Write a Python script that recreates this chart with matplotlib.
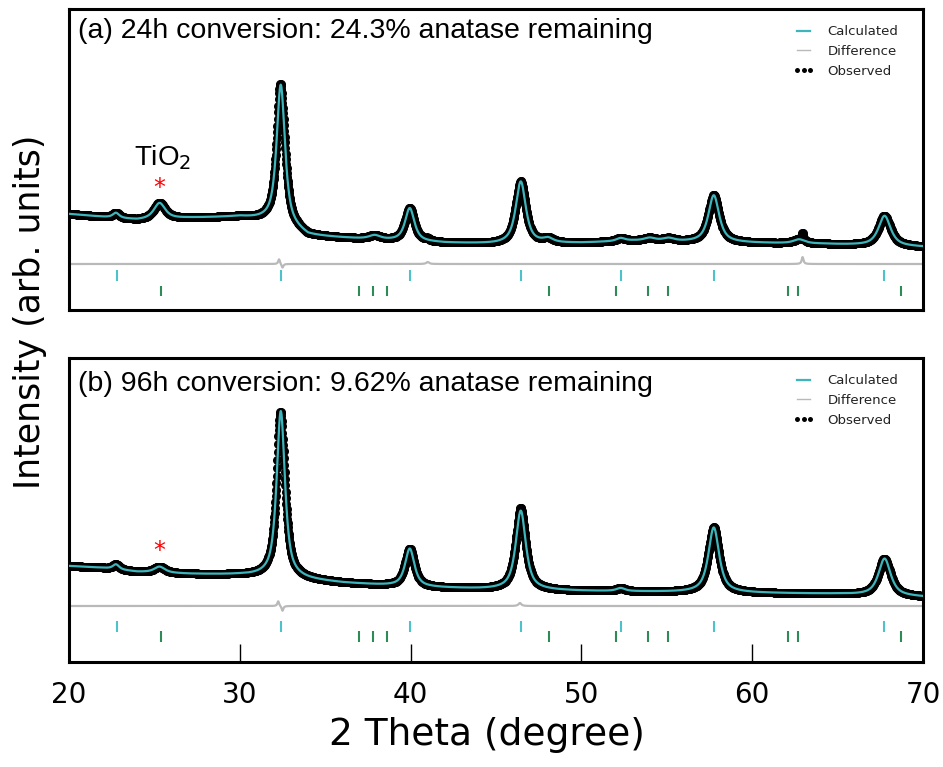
"""
XRD Rietveld refinement plots: 24h and 96h conversion of anatase.
"""

import numpy as np
import matplotlib.pyplot as plt

# scan range / step (deg 2-theta)
scan_start, scan_stop, scan_step = 20.0, 70.0, 0.02

# reflection tick positions
srtio3_ticks = [22.79, 32.40, 39.96, 46.46, 52.30, 57.74, 67.70]
anatase_ticks = [25.39, 37.00, 37.82, 38.62, 48.08, 52.00, 53.88, 55.09, 62.11, 62.66, 68.71]

# (a) 24h -- background anchors and fitted peaks
bg_a_pos = [20, 22, 24, 27, 30, 32.3, 34, 36, 38, 42, 45, 50, 53, 56, 60, 64, 70]
bg_a_int = [96, 93, 90, 92, 93, 88, 74, 72, 70, 67, 66, 67, 69, 68, 67, 66, 63]
peak_a_pos = [22.75, 25.30, 32.40, 37.90, 39.95, 46.45, 48.05, 52.30, 54.00, 55.10, 57.75, 62.75, 67.75]
peak_a_int = [5, 16, 138, 4, 33, 62, 4, 3, 3, 3, 47, 4, 30]
peak_a_fwhm = [0.45, 0.8, 0.58, 0.8, 0.65, 0.7, 0.7, 0.6, 0.8, 0.8, 0.75, 0.8, 0.85]
# features not described by the model (show up in observed and difference)
extra_a_pos = [62.95, 32.30, 32.50, 41.00]
extra_a_int = [7, 5, -4, 2]
extra_a_fwhm = [0.12, 0.12, 0.12, 0.2]

# (b) 96h
bg_b_pos = [20, 22, 24, 27, 30, 32.3, 34, 36, 40, 44, 50, 55, 60, 65, 70]
bg_b_int = [96, 94, 90, 88, 87, 85, 82, 79, 75, 73, 71, 70, 69, 68, 65]
peak_b_pos = [22.75, 25.30, 32.40, 39.95, 46.45, 52.30, 57.75, 67.75]
peak_b_int = [5, 6, 166, 38, 79, 3, 65, 37]
peak_b_fwhm = [0.45, 0.75, 0.58, 0.65, 0.7, 0.6, 0.75, 0.85]
extra_b_pos = [32.25, 32.50, 46.40]
extra_b_int = [5, -5, 3]
extra_b_fwhm = [0.12, 0.12, 0.2]

# panel text
titles = ["(a) 24h conversion: 24.3% anatase remaining",
          "(b) 96h conversion: 9.62% anatase remaining"]
diff_level = [46, 56]
tick_rows = [((29, 40), (14, 24)), ((30, 41), (20, 31))]
star_level = [122, 111]
ylims = [(0, 301), (0, 304)]

CALC_COLOR = "#3db5bb"
SRT_TICK_COLOR = "#4cc3cc"
ANA_TICK_COLOR = "#2e8b57"
DIFF_COLOR = "#b9b9b9"


def pseudo_voigt(x, pos, height, fwhm, eta=0.8):
    """Sum of pseudo-Voigt peaks."""
    y = np.zeros_like(x)
    for p, h, w in zip(pos, height, fwhm):
        u = (x - p) / (w / 2.0)
        y += h * (eta / (1.0 + u ** 2) + (1 - eta) * np.exp(-np.log(2) * u ** 2))
    return y


tth = np.arange(scan_start, scan_stop + scan_step / 2, scan_step)

panels = [
    (bg_a_pos, bg_a_int, peak_a_pos, peak_a_int, peak_a_fwhm, extra_a_pos, extra_a_int, extra_a_fwhm),
    (bg_b_pos, bg_b_int, peak_b_pos, peak_b_int, peak_b_fwhm, extra_b_pos, extra_b_int, extra_b_fwhm),
]

fig = plt.figure(figsize=(9.43, 7.67), dpi=100)
ax_top = fig.add_axes([69 / 943, 1 - 310 / 767, 854 / 943, 301 / 767])
ax_bot = fig.add_axes([69 / 943, 1 - 662 / 767, 854 / 943, 304 / 767])
axes = [ax_top, ax_bot]

for i, (ax, spec) in enumerate(zip(axes, panels)):
    bpos, bint, ppos, pint, pw, epos, eint, ew = spec
    calc = np.interp(tth, bpos, bint) + pseudo_voigt(tth, ppos, pint, pw)
    extra = pseudo_voigt(tth, epos, eint, ew, eta=1.0)
    obs = calc + extra
    diff = diff_level[i] + extra

    ax.plot(tth, obs, "o", color="black", markersize=6.5, markeredgewidth=0,
            label="Observed", zorder=2)
    ax.plot(tth, calc, color=CALC_COLOR, lw=1.6, label="Calculated", zorder=3)
    ax.plot(tth, diff, color=DIFF_COLOR, lw=1.6, label="Difference", zorder=2)

    (c0, c1), (g0, g1) = tick_rows[i]
    ax.vlines(srtio3_ticks, c0, c1, color=SRT_TICK_COLOR, lw=1.5)
    ax.vlines(anatase_ticks, g0, g1, color=ANA_TICK_COLOR, lw=1.5)

    ax.text(25.3, star_level[i], "*", color="red", fontsize=17, ha="center", va="center")
    ax.text(0.011, 0.905 if i == 0 else 0.893, titles[i], transform=ax.transAxes,
            fontsize=20.5, family="Liberation Sans", ha="left", va="baseline")

    ax.set_xlim(scan_start, scan_stop)
    ax.set_ylim(*ylims[i])
    ax.set_yticks([])
    for s in ax.spines.values():
        s.set_linewidth(2.2)

    handles, labels = ax.get_legend_handles_labels()
    order = [1, 2, 0]
    leg = ax.legend([handles[k] for k in order], [labels[k] for k in order],
                    loc="upper right", bbox_to_anchor=(0.985, 0.985), frameon=False,
                    fontsize=9.5, numpoints=3, markerscale=0.55, handlelength=1.6,
                    handletextpad=1.0, labelspacing=0.5)
    leg.get_lines()[1].set_linewidth(1.0)
    for t in leg.get_texts():
        t.set_color("#222222")

ax_top.text(25.5, 152, "TiO$_2$", fontsize=20, family="Liberation Sans",
            ha="center", va="center")

ax_top.tick_params(axis="x", bottom=False, labelbottom=False)
ax_bot.set_xticks([20, 30, 40, 50, 60, 70])
ax_bot.tick_params(axis="x", direction="in", length=13, width=1.0, pad=14, labelsize=20)

fig.text(30 / 943, 1 - 312 / 767, "Intensity (arb. units)", rotation=90,
         fontsize=25, ha="center", va="center")
fig.text(487 / 943, 1 - 735 / 767, "2 Theta (degree)", fontsize=27,
         ha="center", va="center")

fig.savefig("out.png", dpi=100)
plt.close(fig)
